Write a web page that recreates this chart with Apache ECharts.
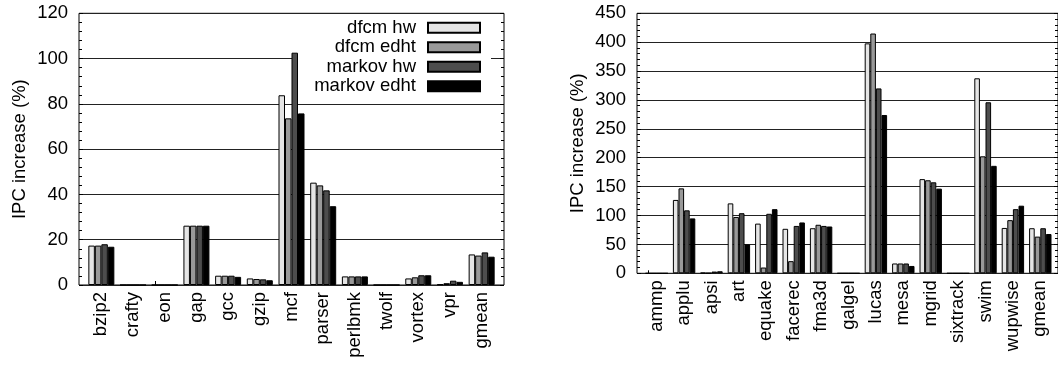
<!DOCTYPE html>
<html>
<head>
<meta charset="utf-8">
<script src="https://cdn.jsdelivr.net/npm/echarts@6/dist/echarts.min.js"></script>
<style>
html,body{margin:0;padding:0;background:#fff;}
#chart{width:1058px;height:366px;}
</style>
</head>
<body>
<div id="chart"></div>
<script>
// ---------- data ----------
const seriesNames = ['dfcm hw', 'dfcm edht', 'markov hw', 'markov edht'];

const categoriesInt = ['bzip2','crafty','eon','gap','gcc','gzip','mcf','parser','perlbmk','twolf','vortex','vpr','gmean'];
const dfcmHwInt     = [17.4, 0, 0, 26.2, 4.1, 2.9, 83.8, 45.2, 3.8, 0, 2.9, 0.3, 13.5];
const dfcmEdhtInt   = [17.4, 0, 0, 26.2, 4.1, 2.65, 73.6, 44.0, 3.8, 0, 3.4, 0.8, 13.0];
const markovHwInt   = [18.0, 0, 0, 26.2, 4.1, 2.5, 102.6, 41.8, 3.8, 0, 4.3, 1.9, 14.4];
const markovEdhtInt = [16.9, 0, 0, 26.2, 3.6, 2.1, 75.8, 34.8, 3.8, 0, 4.3, 1.4, 12.5];

const categoriesFp = ['ammp','applu','apsi','art','equake','facerec','fma3d','galgel','lucas','mesa','mgrid','sixtrack','swim','wupwise','gmean'];
const dfcmHwFp     = [0, 127, 1, 121, 86, 77, 78, 0, 398, 17, 163, 0, 337.5, 78.5, 78];
const dfcmEdhtFp   = [0, 147, 0.5, 97.5, 10, 21, 84, 0, 415, 17, 161, 0, 202.5, 92, 63.5];
const markovHwFp   = [0, 109, 3, 104, 103, 82, 82, 0, 320, 17, 157.5, 0, 296, 111, 78];
const markovEdhtFp = [0, 95, 3.5, 50, 111, 88, 81, 0, 274, 12.7, 146.5, 0, 186, 117, 68];

const yTicksInt = {min: 0, max: 120, interval: 20};
const yTicksFp  = {min: 0, max: 450, interval: 50};

// ---------- style ----------
const FONT = '"Liberation Sans", Arial, Helvetica, sans-serif';
const FS = 18.5;
const colors = ['#e5e5e5', '#999999', '#4d4d4d', '#000000'];

const L = {frameLeft: 79, top: 13.3, frameW: 425, h: 271.7, pad: 6.5, barW: 6.5};
const R = {frameLeft: 637, top: 13.3, frameW: 423, h: 260, pad: 6, barW: 5.6};

function grids(p) {
  const catW = p.frameW - 2 * p.pad;
  return [
    {left: p.frameLeft, top: p.top, width: p.frameW, height: p.h, show: true, borderColor: '#000', borderWidth: 1, backgroundColor: 'transparent'},
    {left: p.frameLeft + p.pad, top: p.top, width: catW, height: p.h},
    {left: p.frameLeft + p.pad - 1.5 * p.barW, top: p.top, width: catW, height: p.h}
  ];
}

function frameY(gi, ticks, side, showLabel) {
  return {
    type: 'value', gridIndex: gi, position: side,
    min: ticks.min, max: ticks.max, interval: ticks.interval,
    name: showLabel ? 'IPC increase (%)' : '',
    nameLocation: 'middle', nameGap: 50,
    nameTextStyle: {fontFamily: FONT, fontSize: FS, color: '#000'},
    axisLine: {show: false},
    axisTick: {show: true, inside: true, length: 4, lineStyle: {color: '#000'}},
    minorTick: {show: true, splitNumber: 5, length: 3, lineStyle: {color: '#000'}},
    splitLine: {show: showLabel, lineStyle: {color: '#222', width: 1}},
    axisLabel: {show: showLabel, fontFamily: FONT, fontSize: FS, color: '#000', margin: 11}
  };
}

function hiddenY(gi, ticks) {
  return {type: 'value', gridIndex: gi, min: ticks.min, max: ticks.max, interval: ticks.interval, show: false};
}

const option = {
  animation: false,
  backgroundColor: '#fff',
  grid: [...grids(L), ...grids(R)],
  xAxis: [
    {type: 'value', gridIndex: 0, show: false, min: 0, max: 1},
    {type: 'category', gridIndex: 1, data: categoriesInt,
     axisLine: {show: false}, axisTick: {show: false},
     axisLabel: {rotate: 90, margin: 7, fontFamily: FONT, fontSize: FS, color: '#000', interval: 0}},
    {type: 'category', gridIndex: 2, data: categoriesInt,
     axisLine: {show: false}, axisLabel: {show: false},
     axisTick: {show: true, inside: true, alignWithLabel: true, length: 4, lineStyle: {color: '#000'}}},
    {type: 'value', gridIndex: 3, show: false, min: 0, max: 1},
    {type: 'category', gridIndex: 4, data: categoriesFp,
     axisLine: {show: false}, axisTick: {show: false},
     axisLabel: {rotate: 90, margin: 7, fontFamily: FONT, fontSize: FS, color: '#000', interval: 0}},
    {type: 'category', gridIndex: 5, data: categoriesFp,
     axisLine: {show: false}, axisLabel: {show: false},
     axisTick: {show: true, inside: true, alignWithLabel: true, length: 3, lineStyle: {color: '#000'}}}
  ],
  yAxis: [
    frameY(0, yTicksInt, 'left', true),
    frameY(0, yTicksInt, 'right', false),
    hiddenY(1, yTicksInt),
    hiddenY(2, yTicksInt),
    frameY(3, yTicksFp, 'left', true),
    frameY(3, yTicksFp, 'right', false),
    hiddenY(4, yTicksFp),
    hiddenY(5, yTicksFp)
  ],
  legend: {
    data: seriesNames,
    orient: 'vertical',
    align: 'right',
    right: 1058 - 491,
    top: 14,
    itemWidth: 52,
    itemHeight: 10,
    itemGap: 0,
    padding: [4, 10, 4, 21],
    backgroundColor: '#fff',
    icon: 'rect',
    z: 1,
    textStyle: {fontFamily: FONT, fontSize: FS, lineHeight: 19.5, color: '#000', padding: [0, 7, 0, 0]}
  },
  series: []
};

const intData = [dfcmHwInt, dfcmEdhtInt, markovHwInt, markovEdhtInt];
const fpData = [dfcmHwFp, dfcmEdhtFp, markovHwFp, markovEdhtFp];

seriesNames.forEach((name, i) => {
  option.series.push({
    name, type: 'bar', xAxisIndex: 1, yAxisIndex: 2, z: 3,
    data: intData[i], barWidth: L.barW, barGap: '0%',
    itemStyle: {color: colors[i], borderColor: '#000', borderWidth: 1}
  });
});
seriesNames.forEach((name, i) => {
  option.series.push({
    name, type: 'bar', xAxisIndex: 4, yAxisIndex: 6, z: 3,
    data: fpData[i], barWidth: R.barW, barGap: '0%',
    itemStyle: {color: colors[i], borderColor: '#000', borderWidth: 1}
  });
});

const chart = echarts.init(document.getElementById('chart'), null, {renderer: 'canvas'});
chart.setOption(option);
</script>
</body>
</html>
